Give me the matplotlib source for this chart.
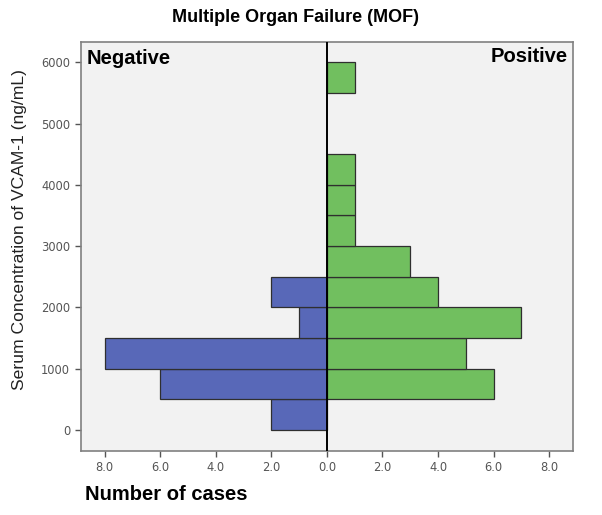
import matplotlib
matplotlib.use("Agg")
import matplotlib.pyplot as plt
import numpy as np

# Data
bin_edges = [0, 500, 1000, 1500, 2000, 2500, 3000, 3500, 4000, 4500, 5000, 5500, 6000]
negative_counts = [2, 6, 8, 1, 2, 0, 0, 0, 0, 0, 0, 0]
positive_counts = [0, 6, 5, 7, 4, 3, 1, 1, 1, 0, 0, 1]
y_ticks = [0, 1000, 2000, 3000, 4000, 5000, 6000]
x_ticks = [-8, -6, -4, -2, 0, 2, 4, 6, 8]
x_tick_labels = ["8.0", "6.0", "4.0", "2.0", "0.0", "2.0", "4.0", "6.0", "8.0"]

blue = "#5868b8"
green = "#71bf5f"
edge = "#2f2f2f"

fig = plt.figure(figsize=(6.02, 5.15), dpi=100)
ax = fig.add_axes([0.134, 0.1249, 0.818, 0.794])
ax.set_facecolor("#f2f2f2")

edges = np.array(bin_edges)
bottoms = edges[:-1]
heights = np.diff(edges)
neg = np.array(negative_counts)
pos = np.array(positive_counts)

mask_n = neg > 0
ax.barh(bottoms[mask_n], -neg[mask_n], height=heights[mask_n], align="edge",
        color=blue, edgecolor=edge, linewidth=0.9)
mask_p = pos > 0
ax.barh(bottoms[mask_p], pos[mask_p], height=heights[mask_p], align="edge",
        color=green, edgecolor=edge, linewidth=0.9)

ax.axvline(0, color="black", linewidth=1.4, zorder=5)

ax.set_xlim(-8.86, 8.86)
ax.set_ylim(-338, 6334)
ax.set_xticks(x_ticks)
ax.set_xticklabels(x_tick_labels)
ax.set_yticks(y_ticks)
ax.tick_params(axis="both", direction="out", length=4, width=1, color="#555555",
               labelsize=8.3, labelcolor="#555555")
for lbl in ax.get_xticklabels() + ax.get_yticklabels():
    lbl.set_family("DejaVu Sans")
for s in ax.spines.values():
    s.set_color("#808080")
    s.set_linewidth(1.2)

ax.text(0.012, 0.96, "Negative", transform=ax.transAxes, fontsize=14.5,
        fontweight="bold", family="Liberation Sans", ha="left", va="center")
ax.text(0.99, 0.965, "Positive", transform=ax.transAxes, fontsize=14.5,
        fontweight="bold", family="Liberation Sans", ha="right", va="center")

fig.text(296/602, 1 - 18/515, "Multiple Organ Failure (MOF)", fontsize=13,
         fontweight="bold", family="Liberation Sans", ha="center", va="center")
fig.text(85/602, 1 - 495/515, "Number of cases", fontsize=14.5,
         fontweight="bold", family="Liberation Sans", ha="left", va="center")
fig.text(20/602, 1 - 230/515, "Serum Concentration of VCAM-1 (ng/mL)", fontsize=12.6,
         family="Liberation Sans", rotation=90, ha="center", va="center", color="#222222")

fig.savefig("out.png", dpi=100)
